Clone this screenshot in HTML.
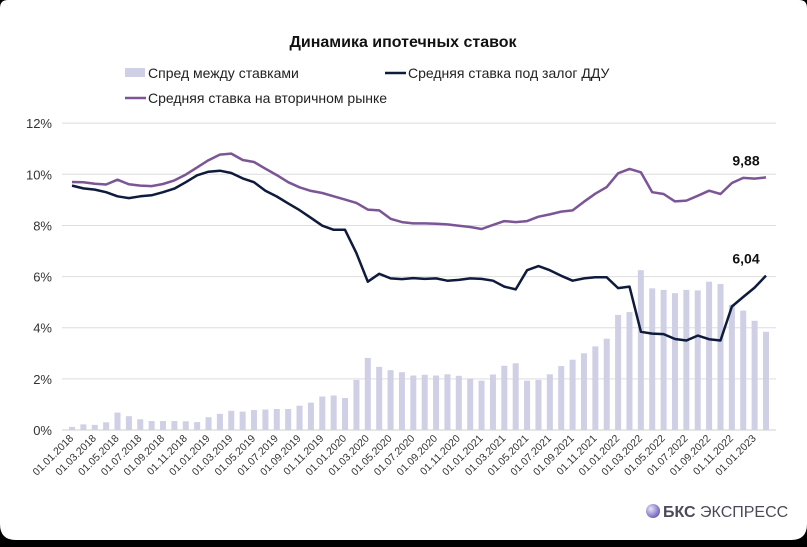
<!DOCTYPE html>
<html><head><meta charset="utf-8"><style>
html,body{margin:0;padding:0;background:#000;}
body{width:807px;height:542px;overflow:hidden;font-family:"Liberation Sans","DejaVu Sans",sans-serif;}
</style></head><body>
<svg id="chart" width="807" height="542" xmlns="http://www.w3.org/2000/svg" font-family="Liberation Sans, DejaVu Sans, sans-serif">
<defs><radialGradient id="lg" cx="0.35" cy="0.35" r="0.7"><stop offset="0" stop-color="#e8e4f7"/><stop offset="1" stop-color="#6a5bb8"/></radialGradient></defs>
<path d="M8 0 H799 Q807 0 807 8 V524 Q807 540 791 540 H16 Q0 540 0 524 V8 Q0 0 8 0 Z" fill="#fff"/>
<text x="403" y="47" text-anchor="middle" font-size="16" font-weight="bold" fill="#111">Динамика ипотечных ставок</text>
<g font-size="14" fill="#222">
<rect x="125" y="68" width="20" height="9" fill="#cfcfe6"/>
<text x="148" y="78">Спред между ставками</text>
<line x1="385" y1="73" x2="406" y2="73" stroke="#0f1b3c" stroke-width="2.5"/>
<text x="408" y="78">Средняя ставка под залог ДДУ</text>
<line x1="125" y1="98" x2="146" y2="98" stroke="#7b5596" stroke-width="2.5"/>
<text x="148" y="103">Средняя ставка на вторичном рынке</text>
</g>
<g id="grid"></g><g id="bars"></g><g id="lines"></g><g id="xlabels"></g>
<g>
<circle cx="653" cy="511" r="7" fill="url(#lg)"/>
<text x="663" y="517" font-size="16" fill="#4a4a5a"><tspan font-weight="bold">БКС</tspan> ЭКСПРЕСС</text>
</g>
</svg>
<script>
const spread=[0.12,0.22,0.2,0.3,0.68,0.54,0.42,0.35,0.35,0.35,0.34,0.31,0.5,0.63,0.75,0.72,0.78,0.8,0.82,0.82,0.95,1.07,1.31,1.35,1.25,1.96,2.82,2.47,2.34,2.26,2.13,2.16,2.13,2.18,2.12,2.01,1.93,2.17,2.51,2.61,1.93,1.96,2.18,2.5,2.75,3.0,3.27,3.57,4.5,4.61,6.25,5.54,5.48,5.35,5.48,5.46,5.8,5.71,4.9,4.67,4.27,3.84];
const ddu=[9.56,9.45,9.4,9.3,9.14,9.07,9.14,9.18,9.3,9.44,9.69,9.96,10.1,10.14,10.05,9.84,9.69,9.36,9.13,8.86,8.6,8.3,7.99,7.83,7.83,6.92,5.8,6.11,5.93,5.9,5.94,5.91,5.93,5.84,5.87,5.93,5.91,5.84,5.61,5.5,6.25,6.41,6.25,6.03,5.84,5.93,5.97,5.97,5.55,5.61,3.84,3.77,3.75,3.56,3.5,3.69,3.55,3.5,4.83,5.2,5.57,6.04];
const secondary=[9.7,9.69,9.63,9.6,9.79,9.61,9.56,9.54,9.62,9.76,9.99,10.27,10.55,10.77,10.81,10.56,10.48,10.22,9.97,9.69,9.49,9.35,9.27,9.14,9.01,8.88,8.62,8.59,8.26,8.13,8.08,8.08,8.07,8.04,7.99,7.94,7.86,8.02,8.17,8.13,8.17,8.34,8.43,8.54,8.59,8.93,9.24,9.5,10.04,10.21,10.08,9.3,9.23,8.94,8.97,9.16,9.36,9.23,9.66,9.86,9.83,9.88];
const yTicks=[0,2,4,6,8,10,12];
const xTickLabels=["01.01.2018","01.03.2018","01.05.2018","01.07.2018","01.09.2018","01.11.2018","01.01.2019","01.03.2019","01.05.2019","01.07.2019","01.09.2019","01.11.2019","01.01.2020","01.03.2020","01.05.2020","01.07.2020","01.09.2020","01.11.2020","01.01.2021","01.03.2021","01.05.2021","01.07.2021","01.09.2021","01.11.2021","01.01.2022","01.03.2022","01.05.2022","01.07.2022","01.09.2022","01.11.2022","01.01.2023"];
const NS="http://www.w3.org/2000/svg";
const x0=72,x1=766,yBase=430,yPer=25.57,plotL=62,plotR=776;
const n=spread.length;
function xs(i){return x0+(x1-x0)*i/(n-1);}
function ys(v){return yBase-v*yPer;}
function mk(t,a,p){const e=document.createElementNS(NS,t);for(const k in a)e.setAttribute(k,a[k]);p.appendChild(e);return e;}
const grid=document.getElementById('grid');
yTicks.forEach(v=>{
 const l=mk('line',{x1:plotL,x2:plotR,y1:ys(v),y2:ys(v),stroke:v===0?'#cfcfcf':'#dedede','stroke-width':1},grid);
 
 
 const t=mk('text',{x:52,y:ys(v)+5,'text-anchor':'end','font-size':13,fill:'#333'},grid);
 t.textContent=v+'%';
 
 
});
const bars=document.getElementById('bars');
spread.forEach((v,i)=>{
 const r=mk('rect',{x:xs(i)-3,y:ys(v),width:6,height:v*yPer,fill:'#cfcfe6'},bars);
 
 
});
const lines=document.getElementById('lines');
function path(arr,col,name){
 const p=mk('polyline',{points:arr.map((v,i)=>xs(i).toFixed(1)+','+ys(v).toFixed(1)).join(' '),fill:'none',stroke:col,'stroke-width':2.5,'stroke-linejoin':'round'},lines);
 
 
}
path(secondary,'#7b5596','secondary-market-line');
path(ddu,'#0f1b3c','ddu-line');
function lab(arr,name){
 const v=arr[n-1];
 const t=mk('text',{x:xs(n-1)-20,y:ys(v)-12,'text-anchor':'middle','font-size':14,'font-weight':'bold',fill:'#111'},lines);
 t.textContent=v.toFixed(2).replace('.',',');
 
 
}
lab(secondary,'secondary-last-value');
lab(ddu,'ddu-last-value');
const xl=document.getElementById('xlabels');
xTickLabels.forEach((s,k)=>{
 const x=xs(k*2)+2,y=439;
 const t=mk('text',{x:x,y:y,'text-anchor':'end','font-size':10.5,fill:'#333',transform:'rotate(-45 '+x+' '+y+')'},xl);
 t.textContent=s;
 
 
});
</script>
</body></html>
